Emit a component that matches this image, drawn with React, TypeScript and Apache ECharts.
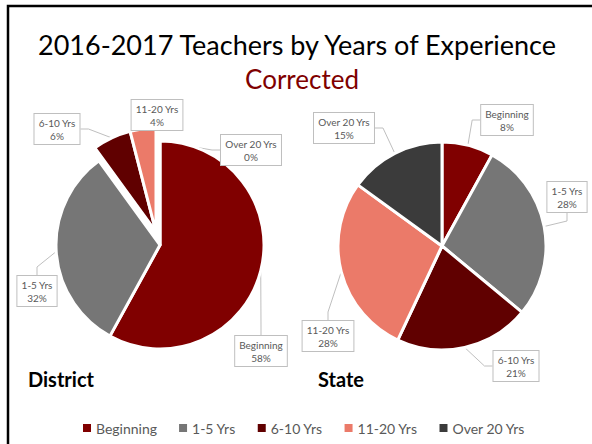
import React, { useEffect, useRef } from 'react';
import * as echarts from 'echarts';

const categories = ['Beginning', '1-5 Yrs', '6-10 Yrs', '11-20 Yrs', 'Over 20 Yrs'];
const districtValues = [58, 32, 6, 4, 0];
const stateValues = [8, 28, 21, 28, 15];
const titleText = '2016-2017 Teachers by Years of Experience';
const subtitleText = 'Corrected';
const pieTitles = ['District', 'State'];

const colors = ['#800000', '#767676', '#600000', '#eb7a69', '#3b3b3b'];
const FONT = 'Lato, "Open Sans", sans-serif';

const districtLabelPos = [[261, 351], [37, 291], [57, 129], [157, 115], [251, 150]];
const stateLabelPos = [[507, 120], [567, 197], [516, 366], [328, 336], [344, 128]];

function makeSeries(values: number[], center: number[], visible: number[], labelPos: number[][]) {
  return {
    type: 'pie',
    center,
    radius: 104,
    startAngle: 90,
    clockwise: true,
    avoidLabelOverlap: false,
    silent: true,
    emphasis: { disabled: true },
    itemStyle: { borderColor: '#fff', borderWidth: 3 },
    label: {
      show: true,
      position: 'outside',
      formatter: '{b}\n{c}%',
      fontFamily: FONT,
      fontSize: 10,
      lineHeight: 13,
      color: '#595959',
      backgroundColor: '#fff',
      borderColor: '#bfbfbf',
      borderWidth: 1,
      padding: [2, 4, 2, 4],
      align: 'center',
    },
    labelLine: { show: true, length: 8, length2: 8, lineStyle: { color: '#bfbfbf', width: 1 } },
    labelLayout: (p: any) => {
      const pos = labelPos[p.dataIndex];
      return { x: pos[0], y: pos[1], align: 'center', verticalAlign: 'middle' };
    },
    data: categories.map((name, i) => {
      if (visible.indexOf(i) >= 0) {
        return { name, value: values[i], itemStyle: { color: colors[i] } };
      }
      return {
        name,
        value: values[i],
        itemStyle: { color: 'rgba(0,0,0,0)', borderWidth: 0 },
        label: { show: false },
        labelLine: { show: false },
      };
    }),
  };
}

export default function App() {
  const ref = useRef<HTMLDivElement>(null);
  useEffect(() => {
    if (!ref.current) return;
    const chart = echarts.init(ref.current, null, { renderer: 'svg' });
    const dCenter = [160, 245];
    const dExplodedCenter = [156, 232];
    const sCenter = [442, 246];
    chart.setOption({
      animation: false,
      backgroundColor: '#fff',
      textStyle: { fontFamily: FONT },
      legend: {
        left: 78,
        top: 416,
        itemWidth: 8,
        itemHeight: 8,
        itemGap: 22,
        icon: 'rect',
        selectedMode: false,
        textStyle: { fontSize: 14, color: '#595959', fontFamily: FONT },
        itemStyle: { borderWidth: 0 },
        data: categories.map((name, i) => ({ name, itemStyle: { color: colors[i], borderWidth: 0 } })),
      },
      graphic: [
        {
          type: 'rect',
          silent: true,
          shape: { x: 8, y: 6, width: 700, height: 600 },
          style: { fill: 'none', stroke: '#000', lineWidth: 2.5 },
        },
        {
          type: 'text',
          x: 297,
          y: 44,
          style: { text: titleText, fill: '#000', font: `27px ${FONT}`, textAlign: 'center', textVerticalAlign: 'middle' },
        },
        {
          type: 'text',
          x: 302,
          y: 79,
          style: { text: subtitleText, fill: '#7f0000', font: `26px ${FONT}`, textAlign: 'center', textVerticalAlign: 'middle' },
        },
        {
          type: 'text',
          x: 28,
          y: 379,
          style: { text: pieTitles[0], fill: '#000', font: `bold 20px ${FONT}`, textAlign: 'left', textVerticalAlign: 'middle' },
        },
        {
          type: 'text',
          x: 318,
          y: 379,
          style: { text: pieTitles[1], fill: '#000', font: `bold 20px ${FONT}`, textAlign: 'left', textVerticalAlign: 'middle' },
        },
      ],
      series: [
        makeSeries(districtValues, dCenter, [0, 1, 4], districtLabelPos),
        makeSeries(districtValues, dExplodedCenter, [2, 3], districtLabelPos),
        makeSeries(stateValues, sCenter, [0, 1, 2, 3, 4], stateLabelPos),
      ],
    });
    return () => chart.dispose();
  }, []);
  return <div ref={ref} style={{ position: 'absolute', left: 0, top: 0, width: 592, height: 444 }} />;
}
